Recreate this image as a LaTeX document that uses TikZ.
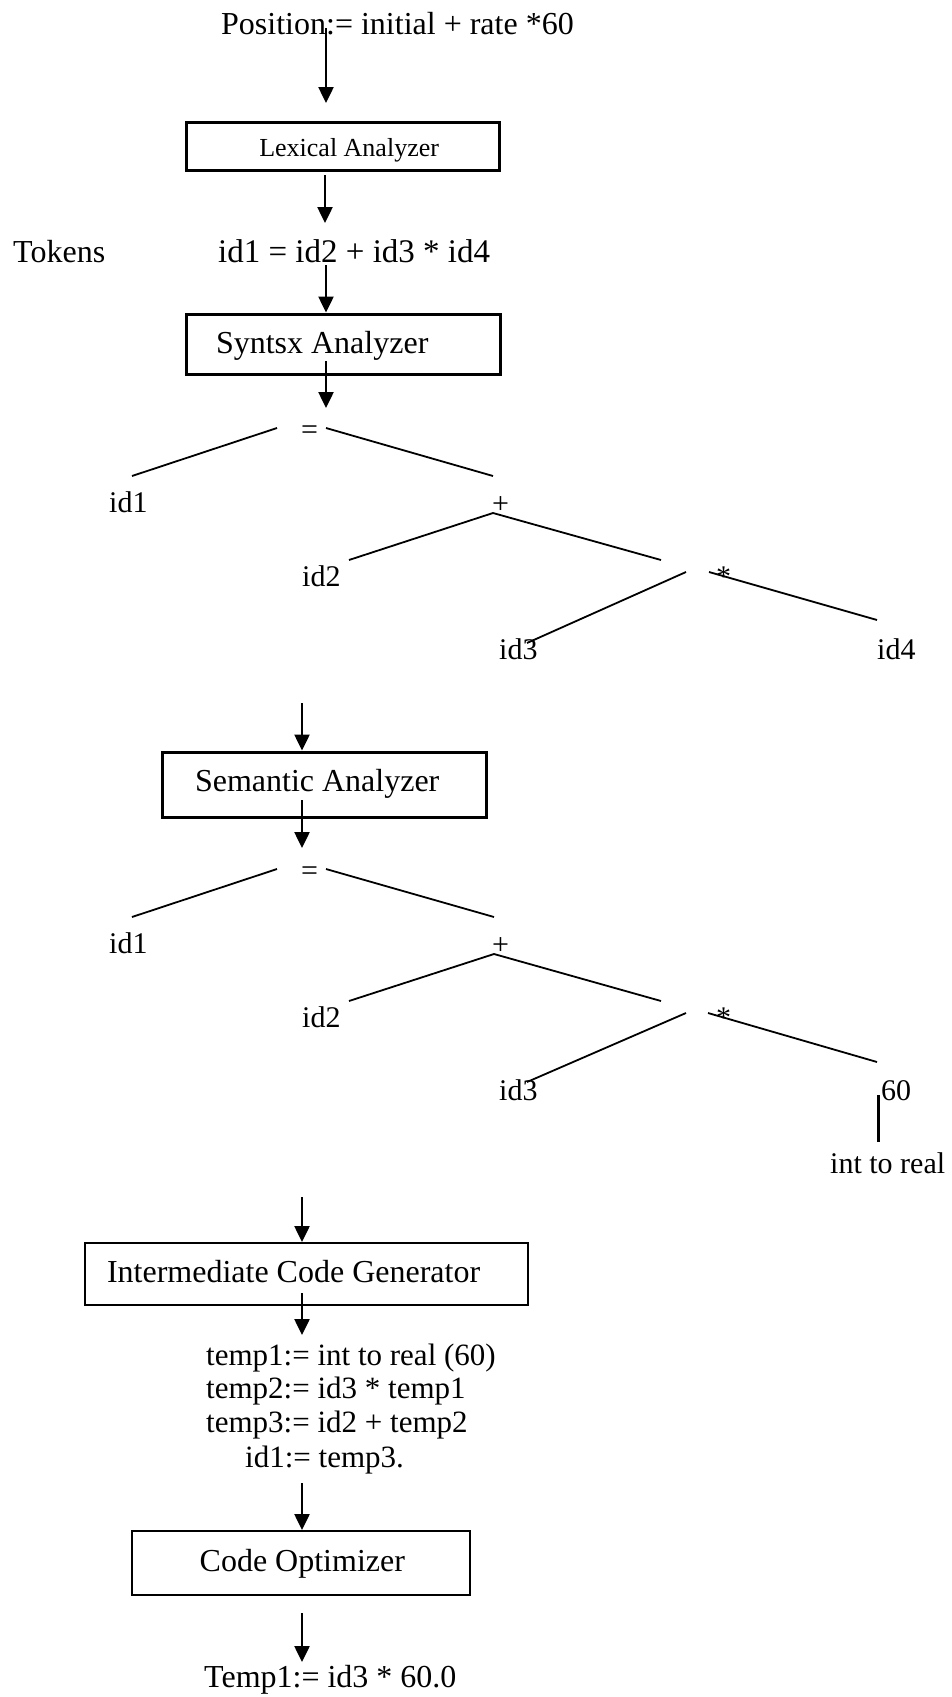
\documentclass[tikz,border=0pt]{standalone}
\usepackage{fontspec}
\setmainfont{Liberation Serif}
\usetikzlibrary{arrows.meta}
\begin{document}
\begin{tikzpicture}[x=1pt,y=-1pt,
  txt/.style={inner sep=0pt, anchor=base west, font=\fontsize{32}{38}\selectfont},
  leaf/.style={inner sep=0pt, anchor=base west, font=\fontsize{30}{36}\selectfont},
  code/.style={inner sep=0pt, anchor=base west, font=\fontsize{31}{37}\selectfont},
  phase/.style={draw, line width=3pt, inner ysep=0pt, font=\fontsize{32}{38}\selectfont},
  flow/.style={-{Triangle[length=16pt,width=15pt]}, line width=2.5pt},
  edge/.style={line width=1.8pt}]
\useasboundingbox (0,0) rectangle (951,1697);

% ---------- source statement and lexical phase ----------
\node[txt] (src) at (221,34) {Position:= initial + rate *60};
\node[phase, font=\fontsize{26}{31}\selectfont, minimum height=48pt,
      text height=26pt, text depth=6pt, inner xsep=60pt, text width=193pt,
      align=flush right] (lex) at (342.5,146) {Lexical Analyzer};
\node[txt] (tokl) at (13,262) {Tokens};
\node[txt, font=\fontsize{33}{39}\selectfont] (toks) at (218,262) {id1 = id2 + id3 * id4};

% ---------- syntax phase ----------
\node[phase, minimum height=60pt, text height=26pt, text depth=8pt,
      inner xsep=30pt, text width=254pt, align=flush left] (syn) at (343,344) {Syntsx Analyzer};

% syntax tree
\node[leaf] (s-eq)   at (301,439) {=};
\node[leaf] (s-id1)  at (109,512) {id1};
\node[leaf] (s-plus) at (492,513) {+};
\node[leaf] (s-id2)  at (302,586) {id2};
\node[leaf] (s-mul)  at (716,586) {*};
\node[leaf] (s-id3)  at (499,659) {id3};
\node[leaf] (s-id4)  at (877,659) {id4};
\coordinate (s-eqL) at (277,428);  \coordinate (s-id1T) at (132,476);
\coordinate (s-eqR) at (326,428);  \coordinate (s-plT)  at (493,476);
\coordinate (s-plB) at (493,513);
\coordinate (s-id2T) at (349,560); \coordinate (s-mulT) at (661,560);
\coordinate (s-muL) at (686,572);  \coordinate (s-id3T) at (527,643);
\coordinate (s-muR) at (709,572);  \coordinate (s-id4T) at (877,620);
\draw[edge] (s-eqL) -- (s-id1T);
\draw[edge] (s-eqR) -- (s-plT);
\draw[edge] (s-id2T) -- (s-plB) -- (s-mulT);
\draw[edge] (s-muL) -- (s-id3T);
\draw[edge] (s-muR) -- (s-id4T);

% ---------- semantic phase ----------
\node[phase, minimum height=65pt, text height=24pt, text depth=11pt,
      inner xsep=33pt, text width=258pt, align=flush left] (sem) at (324,784.5) {Semantic Analyzer};

% annotated tree
\node[leaf] (m-eq)   at (301,880) {=};
\node[leaf] (m-id1)  at (109,953) {id1};
\node[leaf] (m-plus) at (492,954) {+};
\node[leaf] (m-id2)  at (302,1027) {id2};
\node[leaf] (m-mul)  at (716,1027) {*};
\node[leaf] (m-id3)  at (499,1100) {id3};
\node[leaf] (m-60)   at (881,1100) {60};
\node[leaf] (m-conv) at (830,1173) {int to real};
\coordinate (m-eqL) at (277,869);  \coordinate (m-id1T) at (132,917);
\coordinate (m-eqR) at (326,869);  \coordinate (m-plT)  at (494,917);
\coordinate (m-plB) at (494,954);
\coordinate (m-id2T) at (349,1001); \coordinate (m-mulT) at (661,1001);
\coordinate (m-muL) at (686,1013);  \coordinate (m-id3T) at (527,1082);
\coordinate (m-muR) at (708,1013);  \coordinate (m-60T)  at (877,1062);
\coordinate (m-cvT) at (878,1095);  \coordinate (m-cvB)  at (878,1142);
\draw[edge] (m-eqL) -- (m-id1T);
\draw[edge] (m-eqR) -- (m-plT);
\draw[edge] (m-id2T) -- (m-plB) -- (m-mulT);
\draw[edge] (m-muL) -- (m-id3T);
\draw[edge] (m-muR) -- (m-60T);
\draw[line width=3pt] (m-cvT) -- (m-cvB);

% ---------- intermediate code ----------
\node[phase, line width=2pt, minimum height=62pt, text height=24pt, text depth=8pt,
      inner xsep=22pt, text width=399pt, align=flush left] (icg) at (306.5,1274) {Intermediate Code Generator};
\node[code] (c1) at (206,1365) {temp1:= int to real (60)};
\node[code] (c2) at (206,1398) {temp2:= id3 * temp1};
\node[code] (c3) at (206,1432) {temp3:= id2 + temp2};
\node[code] (c4) at (245,1467) {id1:= temp3.};

% ---------- optimisation ----------
\node[phase, line width=2pt, minimum height=64pt, text height=24pt, text depth=8pt,
      inner xsep=65pt, text width=208pt, align=flush right] (opt) at (301,1563) {Code Optimizer};
\node[txt] (res) at (204,1687) {Temp1:= id3 * 60.0};

% ---------- flow arrows ----------
\coordinate (a1s) at (326,28);   \coordinate (a1e) at (326,103);
\coordinate (a2s) at (325,175);  \coordinate (a2e) at (325,223);
\coordinate (a3s) at (326,265);
\coordinate (a4s) at (326,361);  \coordinate (a4e) at (326,408);
\coordinate (a5s) at (302,703);
\coordinate (a6s) at (302,800);  \coordinate (a6e) at (302,848);
\coordinate (a7s) at (302,1197);
\coordinate (a8s) at (302,1293); \coordinate (a8e) at (302,1335);
\coordinate (a9s) at (302,1483);
\coordinate (a10s) at (302,1613); \coordinate (a10e) at (302,1662);
\draw[flow] (a1s) -- (a1e);
\draw[flow] (a2s) -- (a2e);
\draw[flow] (a3s) -- (a3s |- syn.north);
\draw[flow] (a4s) -- (a4e);
\draw[flow] (a5s) -- (a5s |- sem.north);
\draw[flow] (a6s) -- (a6e);
\draw[flow] (a7s) -- (a7s |- icg.north);
\draw[flow] (a8s) -- (a8e);
\draw[flow] (a9s) -- (a9s |- opt.north);
\draw[flow] (a10s) -- (a10e);
\end{tikzpicture}
\end{document}
